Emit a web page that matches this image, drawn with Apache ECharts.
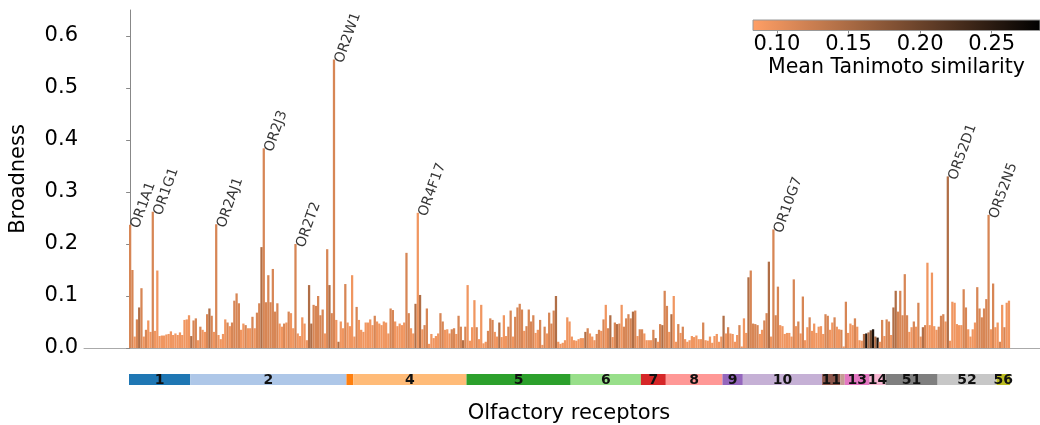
<!DOCTYPE html>
<html><head><meta charset="utf-8">
<script src="https://cdn.jsdelivr.net/npm/echarts@6/dist/echarts.min.js"></script>
<style>html,body{margin:0;padding:0;background:#fff}#c{width:1040px;height:425px}</style>
</head><body><div id="c"></div>
<script>
// Broadness of each olfactory receptor (bar heights), left to right
const broadness = [
0.237,0.15,0.022,0.055,0.078,0.115,0.022,0.035,0.053,0.031,
0.262,0.033,0.149,0.023,0.024,0.024,0.026,0.027,0.032,0.025,
0.028,0.025,0.03,0.025,0.054,0.055,0.063,0.023,0.053,0.057,
0.015,0.041,0.035,0.031,0.065,0.076,0.062,0.031,0.238,0.025,
0.017,0.027,0.055,0.049,0.042,0.049,0.091,0.105,0.086,0.035,
0.047,0.044,0.038,0.038,0.06,0.038,0.068,0.086,0.194,0.384,
0.088,0.14,0.088,0.152,0.07,0.086,0.047,0.041,0.047,0.049,
0.07,0.067,0.038,0.2,0.028,0.023,0.059,0.047,0.015,0.121,
0.047,0.083,0.081,0.1,0.063,0.074,0.028,0.19,0.121,0.067,
0.555,0.054,0.012,0.051,0.038,0.123,0.049,0.042,0.14,0.022,
0.079,0.054,0.035,0.031,0.049,0.049,0.055,0.044,0.062,0.051,
0.047,0.044,0.051,0.049,0.028,0.076,0.073,0.051,0.042,0.047,
0.044,0.049,0.183,0.067,0.038,0.028,0.085,0.26,0.102,0.036,
0.044,0.076,0.008,0.027,0.019,0.023,0.028,0.067,0.051,0.035,
0.036,0.028,0.036,0.038,0.027,0.062,0.041,0.015,0.041,0.121,
0.014,0.04,0.092,0.04,0.017,0.083,0.009,0.012,0.033,0.057,
0.054,0.031,0.022,0.049,0.021,0.063,0.023,0.041,0.072,0.022,
0.06,0.078,0.085,0.074,0.033,0.042,0.074,0.051,0.063,0.029,
0.035,0.054,0.006,0.041,0.028,0.068,0.047,0.072,0.1,0.012,
0.008,0.01,0.015,0.059,0.051,0.022,0.015,0.014,0.017,0.019,
0.019,0.031,0.038,0.028,0.022,0.015,0.027,0.035,0.033,0.055,
0.083,0.038,0.063,0.021,0.049,0.046,0.047,0.083,0.041,0.057,
0.065,0.057,0.07,0.072,0.023,0.036,0.036,0.028,0.015,0.015,
0.015,0.035,0.019,0.012,0.046,0.044,0.11,0.081,0.031,0.065,
0.1,0.012,0.046,0.029,0.041,0.017,0.012,0.015,0.023,0.021,
0.024,0.017,0.017,0.049,0.015,0.014,0.022,0.01,0.023,0.027,
0.012,0.022,0.062,0.028,0.04,0.028,0.027,0.012,0.025,0.044,
0.003,0.057,0.029,0.136,0.149,0.047,0.046,0.044,0.027,0.035,
0.053,0.067,0.166,0.022,0.228,0.063,0.118,0.044,0.042,0.027,
0.029,0.029,0.022,0.132,0.042,0.051,0.028,0.099,0.015,0.04,
0.059,0.033,0.047,0.029,0.041,0.042,0.027,0.065,0.062,0.035,
0.049,0.059,0.041,0.036,0.035,0.003,0.089,0.029,0.047,0.044,
0.057,0.041,0.015,0.014,0.027,0.028,0.03,0.034,0.036,0.022,
0.02,0.012,0.054,0.023,0.055,0.051,0.025,0.078,0.11,0.07,
0.11,0.063,0.142,0.063,0.031,0.04,0.051,0.041,0.087,0.022,
0.04,0.044,0.164,0.044,0.145,0.042,0.035,0.041,0.062,0.065,
0.051,0.33,0.014,0.089,0.087,0.046,0.044,0.044,0.113,0.078,
0.036,0.022,0.036,0.049,0.117,0.076,0.059,0.076,0.094,0.256,
0.036,0.124,0.04,0.049,0.012,0.083,0.04,0.087,0.091
];
// Mean Tanimoto similarity of each receptor (bar colour)
const similarity = [
.115,.115,.095,.115,.145,.115,.095,.115,.095,.095,
.115,.095,.095,.095,.095,.095,.095,.095,.095,.095,
.095,.095,.095,.095,.095,.095,.095,.145,.115,.115,
.095,.115,.095,.095,.115,.145,.115,.095,.115,.095,
.095,.095,.095,.115,.095,.115,.115,.115,.115,.095,
.095,.115,.095,.095,.115,.095,.115,.115,.145,.115,
.115,.115,.115,.115,.115,.115,.095,.095,.115,.095,
.115,.095,.095,.115,.095,.095,.095,.095,.095,.145,
.145,.115,.115,.115,.115,.115,.095,.115,.145,.115,
.115,.095,.145,.095,.095,.115,.095,.095,.095,.095,
.115,.095,.095,.095,.095,.095,.095,.095,.115,.095,
.095,.095,.095,.095,.095,.115,.115,.095,.095,.095,
.095,.095,.115,.115,.095,.095,.145,.095,.145,.095,
.115,.115,.095,.095,.095,.095,.095,.115,.115,.095,
.095,.095,.115,.115,.095,.115,.115,.145,.115,.095,
.095,.095,.095,.115,.095,.095,.095,.095,.115,.115,
.115,.095,.095,.145,.095,.095,.095,.115,.115,.095,
.115,.115,.115,.115,.095,.115,.115,.115,.115,.095,
.095,.115,.095,.115,.095,.115,.115,.115,.145,.095,
.095,.095,.095,.095,.095,.095,.095,.095,.095,.095,
.095,.145,.115,.095,.095,.095,.115,.115,.095,.115,
.095,.115,.145,.095,.115,.145,.115,.095,.115,.115,
.115,.115,.145,.115,.095,.115,.115,.095,.095,.095,
.095,.115,.145,.095,.115,.145,.115,.115,.095,.145,
.095,.095,.115,.095,.115,.095,.095,.095,.095,.095,
.095,.095,.095,.115,.095,.095,.095,.095,.095,.095,
.095,.095,.145,.095,.115,.095,.095,.095,.095,.115,
.095,.095,.095,.145,.115,.115,.115,.115,.095,.095,
.115,.115,.145,.095,.115,.115,.115,.095,.095,.095,
.095,.095,.095,.115,.095,.115,.095,.115,.095,.095,
.115,.095,.095,.095,.095,.095,.095,.115,.115,.095,
.095,.115,.095,.095,.115,.095,.115,.095,.095,.095,
.115,.095,.095,.095,.145,.26,.145,.19,.26,.145,
.26,.095,.115,.095,.115,.115,.095,.145,.145,.115,
.115,.115,.115,.115,.095,.095,.115,.095,.115,.095,
.145,.115,.095,.095,.095,.095,.095,.115,.115,.115,
.095,.145,.095,.095,.095,.095,.095,.095,.115,.115,
.095,.095,.095,.095,.115,.115,.115,.115,.115,.115,
.095,.115,.095,.095,.115,.095,.115,.095,.095
];
// OR families along the x axis, in order, with number of receptors in each
const familyNames  = ['1','2','3','4','5','6','7','8','9','10','11','12','13','14','51','52','56'];
const familyCounts = [27,69,3,50,46,31,11,25,9,35,8,2,11,7,23,26,6];
// Annotated receptors and their position in the bar list
const annotNames = ['OR1A1','OR1G1','OR2AJ1','OR2J3','OR2T2','OR2W1','OR4F17','OR10G7','OR52D1','OR52N5'];
const annotIndex = [0,10,38,59,73,90,127,284,361,379];
// Tick labels
const yTicks  = [0,0.1,0.2,0.3,0.4,0.5,0.6];
const cbTicks = [0.10,0.15,0.20,0.25];
const CB_MIN = 0.0833, CB_MAX = 0.2837;

const FONT = 'DejaVu Sans';
const famPalette = ['#1f77b4','#aec7e8','#ff7f0e','#ffbb78','#2ca02c','#98df8a','#d62728','#ff9896',
  '#9467bd','#c5b0d5','#8c564b','#c49c94','#e377c2','#f7b6d2','#7f7f7f','#c7c7c7','#bcbd22'];

function cmap(v){
  let t = (v - CB_MIN) / (CB_MAX - CB_MIN);
  t = Math.max(0, Math.min(1, t));
  const x = 0.8 * (1 - t);
  const r = Math.round(Math.min(1, 1.25 * x) * 255);
  const g = Math.round(0.7812 * x * 255);
  const b = Math.round(0.4975 * x * 255);
  return 'rgb(' + r + ',' + g + ',' + b + ')';
}

const GRID_W = 956;
const X_MIN = -20.37, X_MAX = 401.7;
const pitch = GRID_W / (X_MAX - X_MIN);

let start = 0;
const famData = familyCounts.map((c, k) => { const d = [start, start + c - 1, k]; start += c; return d; });

const chart = echarts.init(document.getElementById('c'), null, {renderer: 'canvas'});
chart.setOption({
  animation: false,
  backgroundColor: '#fff',
  grid: [
    {left: 84, top: 10, width: GRID_W, height: 338},
    {left: 84, top: 374, width: GRID_W, height: 13},
    {left: 753, top: 20, width: 287, height: 10.5}
  ],
  xAxis: [
    {gridIndex: 0, type: 'value', min: X_MIN, max: X_MAX,
     axisLine: {show: true, onZero: false, lineStyle: {color: '#aaa', width: 1}},
     axisTick: {show: false}, axisLabel: {show: false}, splitLine: {show: false}},
    {gridIndex: 1, type: 'value', min: X_MIN, max: X_MAX,
     axisLine: {show: false}, axisTick: {show: false}, axisLabel: {show: false}, splitLine: {show: false},
     name: 'Olfactory receptors', nameLocation: 'middle', nameGap: 18,
     nameTextStyle: {fontSize: 21, fontFamily: FONT, color: '#000', padding: [0, 0, 0, 14]}},
    {gridIndex: 2, type: 'value', min: CB_MIN, max: CB_MAX,
     axisLine: {show: false},
     axisTick: {show: true, length: 3, customValues: cbTicks, lineStyle: {color: '#888'}},
     axisLabel: {show: true, customValues: cbTicks, formatter: v => v.toFixed(2), fontSize: 21, fontFamily: FONT, color: '#000', margin: 4},
     splitLine: {show: false},
     name: 'Mean Tanimoto similarity', nameLocation: 'middle', nameGap: 27,
     nameTextStyle: {fontSize: 20.5, fontFamily: FONT, color: '#000'}}
  ],
  yAxis: [
    {gridIndex: 0, type: 'value', min: 0, max: 0.65,
     axisLine: {show: true, lineStyle: {color: '#888', width: 1}},
     axisTick: {show: true, length: 4, customValues: yTicks, lineStyle: {color: '#888'}},
     axisLabel: {show: true, customValues: yTicks, formatter: v => v.toFixed(1), fontSize: 21, fontFamily: FONT, color: '#000', margin: 6},
     splitLine: {show: false},
     name: 'Broadness', nameLocation: 'middle', nameGap: 55,
     nameTextStyle: {fontSize: 21, fontFamily: FONT, color: '#000'}},
    {gridIndex: 1, type: 'value', min: 0, max: 1, show: false},
    {gridIndex: 2, type: 'value', min: 0, max: 1, show: false}
  ],
  series: [
    {type: 'bar', xAxisIndex: 0, yAxisIndex: 0, barWidth: pitch, silent: true,
     data: broadness.map((v, i) => ({value: [i, v], itemStyle: {color: cmap(similarity[i])}}))},
    {type: 'scatter', xAxisIndex: 0, yAxisIndex: 0, symbolSize: 0, silent: true, z: 5,
     data: annotIndex.map((i, k) => ({value: [i, broadness[i]], name: annotNames[k]})),
     label: {show: true, formatter: p => p.name, rotate: 70, position: [5, 3], align: 'left', verticalAlign: 'middle',
             fontSize: 14, fontFamily: FONT, color: '#000'}},
    {type: 'custom', xAxisIndex: 1, yAxisIndex: 1, silent: true, data: famData,
     renderItem: (params, api) => {
       const a = api.value(0), b = api.value(1), k = api.value(2);
       const p0 = api.coord([a - 0.5, 1]), p1 = api.coord([b + 0.5, 0]);
       const children = [{type: 'rect', shape: {x: p0[0], y: p0[1], width: p1[0] - p0[0], height: p1[1] - p0[1]},
                          style: {fill: famPalette[k]}}];
       if (familyCounts[k] >= 5) {
         children.push({type: 'text', z2: 10, style: {text: familyNames[k], x: (p0[0] + p1[0]) / 2, y: (p0[1] + p1[1]) / 2 + 0.5,
           align: 'center', verticalAlign: 'middle', fontSize: 14, fontWeight: 'bold', fontFamily: FONT, fill: '#111'}});
       }
       return {type: 'group', children: children};
     }},
    {type: 'custom', xAxisIndex: 2, yAxisIndex: 2, silent: true, data: [[CB_MIN, 0]],
     renderItem: (params, api) => {
       const p0 = api.coord([CB_MIN, 1]), p1 = api.coord([CB_MAX, 0]);
       const stops = [];
       for (let j = 0; j <= 40; j++) { const t = j / 40; stops.push({offset: t, color: cmap(CB_MIN + t * (CB_MAX - CB_MIN))}); }
       return {type: 'rect', shape: {x: p0[0], y: p0[1], width: p1[0] - p0[0], height: p1[1] - p0[1]},
               style: {fill: new echarts.graphic.LinearGradient(0, 0, 1, 0, stops), stroke: '#999', lineWidth: 1}};
     }}
  ]
});
</script>
</body></html>
